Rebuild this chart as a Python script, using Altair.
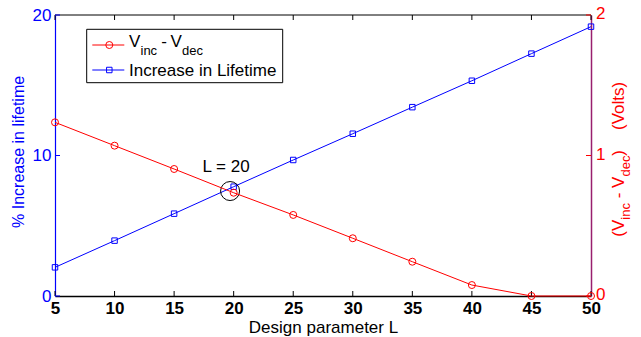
import altair as alt
import pandas as pd

# ---- data ----
L = [5, 10, 15, 20, 25, 30, 35, 40, 45, 50]
lifetime = [2.04, 3.94, 5.86, 7.78, 9.68, 11.55, 13.44, 15.32, 17.25, 19.17]
vdiff = [1.236, 1.070, 0.904, 0.735, 0.577, 0.411, 0.244, 0.078, 0.0, 0.0]
x_ticks = [5, 10, 15, 20, 25, 30, 35, 40, 45, 50]
left_ticks = [0, 10, 20]
right_ticks = [0, 1, 2]
right_labels = ["0", "1", "2"]
annot_L = [19.7]
annot_life = [7.47]
label_L = [19.36]
label_life = [8.84]
label_text = "L = 20"

W, H = 536, 281
FONT = "Liberation Sans"
BLUE = "#0000ff"
RED = "#ff0000"
PURPLE = "#991f6e"

df = pd.DataFrame({"L": L, "life": lifetime, "v": vdiff})
dummy = pd.DataFrame({"d": [0]})

x_enc = alt.X(
    "L:Q",
    scale=alt.Scale(domain=[5, 50], nice=False, zero=False),
    axis=alt.Axis(
        values=x_ticks, format="d", tickSize=0, domainColor="black", domainWidth=1.5,
        labelColor="black", labelFont=FONT, labelFontSize=17, labelFontWeight="bold",
        labelPadding=4, labelFlush=False, labelOverlap=False, grid=False,
        title="Design parameter L", titleFont=FONT, titleFontSize=17,
        titleFontWeight="normal", titleColor="black", titleBaseline="alphabetic",
        titleAlign="center", titleX=W / 2, titleY=36.5,
    ),
)

y_left = alt.Y(
    "life:Q",
    scale=alt.Scale(domain=[0, 20], nice=False, zero=False),
    axis=alt.Axis(
        orient="left", values=left_ticks, format="d", tickSize=0, domainColor=BLUE,
        domainWidth=1.2, labelColor=BLUE, labelFont=FONT, labelFontSize=17,
        labelPadding=4, labelFlush=False, labelOverlap=False, grid=False,
        title="% Increase in lifetime", titleColor=BLUE, titleFont=FONT,
        titleFontSize=16, titleFontWeight="normal", titleAngle=270,
        titleAlign="center", titleBaseline="middle", titleX=-36.7, titleY=136.4,
    ),
)

y_right = alt.Y(
    "v:Q",
    scale=alt.Scale(domain=[0, 2], nice=False, zero=False),
    axis=alt.Axis(
        orient="right", values=right_ticks, tickSize=0, domainColor=PURPLE,
        domainWidth=1.5, labels=False, grid=False, title="",
    ),
)


def txt(s, x, y, size, color, angle=0, align="left", weight="normal"):
    return alt.Chart(dummy).mark_text(
        text=s, fontSize=size, font=FONT, color=color, angle=angle,
        align=align, baseline="alphabetic", fontWeight=weight,
    ).encode(x=alt.value(x), y=alt.value(y))


# ---- left (blue) group ----
blue_line = alt.Chart(df).mark_line(color=BLUE, strokeWidth=1).encode(x=x_enc, y=y_left)
blue_pts = alt.Chart(df).mark_point(
    shape="square", size=30, color=BLUE, filled=False, strokeWidth=1, opacity=1
).encode(x=x_enc, y=y_left)

xt = pd.DataFrame({"L": x_ticks})
xtick_bot = alt.Chart(xt).mark_rule(color="black", strokeWidth=1).encode(
    x=x_enc, y=alt.value(H), y2=alt.value(H - 5))
xtick_top = alt.Chart(xt).mark_rule(color="black", strokeWidth=1).encode(
    x=x_enc, y=alt.value(0), y2=alt.value(5))
top_border = alt.Chart(dummy).mark_rule(color="black", strokeWidth=1).encode(
    x=alt.value(0), x2=alt.value(W), y=alt.value(0))
ltick = alt.Chart(pd.DataFrame({"life": left_ticks})).mark_rule(color=BLUE).encode(
    y=y_left, x=alt.value(0), x2=alt.value(5))

annot_df = pd.DataFrame({"L": annot_L, "life": annot_life})
annot_circle = alt.Chart(annot_df).mark_point(
    shape="circle", size=361, color="black", filled=False, strokeWidth=1, opacity=1
).encode(x=x_enc, y=y_left)
lab_df = pd.DataFrame({"L": label_L, "life": label_life, "t": [label_text]})
annot_text = alt.Chart(lab_df).mark_text(
    font=FONT, fontSize=17, color="black", align="center", baseline="alphabetic"
).encode(x=x_enc, y=y_left, text="t:N")

left = alt.layer(top_border, xtick_bot, xtick_top, ltick, blue_line, blue_pts,
                 annot_circle, annot_text)

# ---- right (red) group ----
red_line = alt.Chart(df).mark_line(color=RED, strokeWidth=1).encode(x=x_enc, y=y_right)
red_pts = alt.Chart(df).mark_point(
    shape="circle", size=49, color=RED, filled=False, strokeWidth=1, opacity=1
).encode(x=x_enc, y=y_right)
rt_df = pd.DataFrame({"v": right_ticks, "lab": right_labels})
rtick = alt.Chart(rt_df).mark_rule(color=RED).encode(
    y=y_right, x=alt.value(W - 5), x2=alt.value(W))
rlabels = alt.Chart(rt_df).mark_text(
    font=FONT, fontSize=17, color=RED, align="left", baseline="middle", dy=-1
).encode(y=y_right, x=alt.value(W + 5), text="lab:N")

# right axis title pieces (rotated)
mx, sx = 624 - 55, 630 - 55
rt = [
    txt("(", mx, 233.9 - 15, 17, RED, 270, "center"),
    txt("V", mx, 225.4 - 15, 17, RED, 270, "center"),
    txt("inc", sx, 211.4 - 15, 13, RED, 270, "center"),
    txt("-", mx, 195.5 - 15, 17, RED, 270, "center"),
    txt("V", mx, 182.3 - 15, 17, RED, 270, "center"),
    txt("dec", sx, 166.1 - 15, 13, RED, 270, "center"),
    txt(")", mx, 152.8 - 15, 17, RED, 270, "center"),
    txt("(Volts)", mx, 105.9 - 15, 17, RED, 270, "center"),
]

# legend
leg_box = alt.Chart(dummy).mark_rect(fill="white", stroke="black", strokeWidth=1).encode(
    x=alt.value(31.7), x2=alt.value(227.7), y=alt.value(14.3), y2=alt.value(67.7))
leg_red_line = alt.Chart(dummy).mark_rule(color=RED, strokeWidth=1).encode(
    x=alt.value(37.3), x2=alt.value(69.3), y=alt.value(30))
leg_red_pt = alt.Chart(dummy).mark_point(
    shape="circle", size=49, color=RED, filled=False, strokeWidth=1, opacity=1
).encode(x=alt.value(54.3), y=alt.value(30))
leg_blue_line = alt.Chart(dummy).mark_rule(color=BLUE, strokeWidth=1).encode(
    x=alt.value(37.3), x2=alt.value(69.3), y=alt.value(55))
leg_blue_pt = alt.Chart(dummy).mark_point(
    shape="square", size=30, color=BLUE, filled=False, strokeWidth=1, opacity=1
).encode(x=alt.value(54.3), y=alt.value(55))
leg_txt = [
    txt("V", 129 - 55, 31.7, 17, "black"),
    txt("inc", 140.5 - 55, 40, 13, "black"),
    txt("-", 164 - 55, 31.7, 17, "black", 0, "center"),
    txt("V", 170.5 - 55, 31.7, 17, "black"),
    txt("dec", 182 - 55, 40, 13, "black"),
    txt("Increase in Lifetime", 129 - 55, 61, 17, "black"),
]

right = alt.layer(red_line, red_pts, rtick, rlabels, *rt, leg_box, leg_red_line,
                  leg_red_pt, leg_blue_line, leg_blue_pt, *leg_txt)

chart = (
    alt.layer(left, right)
    .resolve_scale(y="independent")
    .properties(
        width=W, height=H,
        padding={"left": 55, "top": 15, "right": 50, "bottom": 41},
        autosize=alt.AutoSizeParams(type="none"),
        background="white",
    )
    .configure_view(stroke=None)
)

chart.save("out.html", embed_options={"renderer": "svg", "actions": False})
